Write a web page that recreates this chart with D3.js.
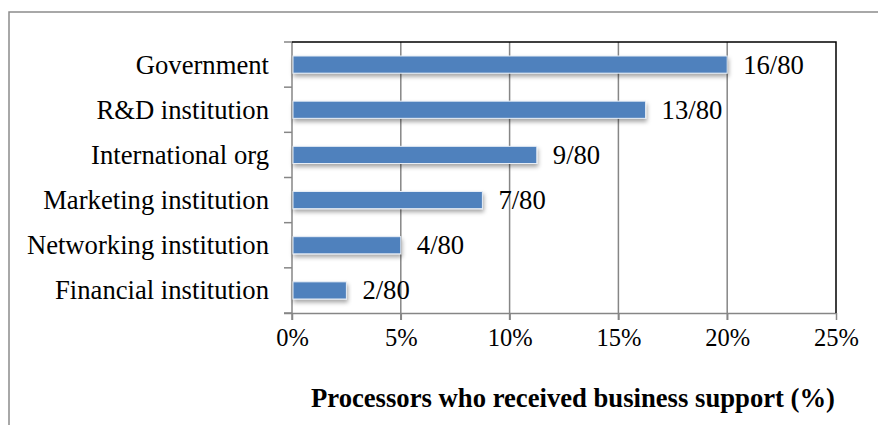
<!DOCTYPE html>
<html>
<head>
<meta charset="utf-8">
<script src="https://cdn.jsdelivr.net/npm/d3@7"></script>
<style>
  html, body { margin: 0; padding: 0; background: #fff; }
  svg { display: block; }
  text { font-family: "Liberation Serif", "Times New Roman", serif; fill: #000; }
</style>
</head>
<body>
<svg id="chart" width="878" height="425"></svg>
<script>
const categories = ["Government", "R&D institution", "International org", "Marketing institution", "Networking institution", "Financial institution"];
const counts = [16, 13, 9, 7, 4, 2];
const total = 80;
const xTicks = [0, 5, 10, 15, 20, 25];
const axisTitle = "Processors who received business support (%)";

const W = 878, H = 425;
const m = { left: 292, right: 836, top: 42, bottom: 313 };
const svg = d3.select("#chart");

const defs = svg.append("defs");
const f = defs.append("filter").attr("id", "shadow").attr("x", "-5%").attr("y", "-40%").attr("width", "115%").attr("height", "200%");
f.append("feDropShadow").attr("dx", 1).attr("dy", 3).attr("stdDeviation", 2).attr("flood-color", "#000").attr("flood-opacity", 0.35);

// outer frame
svg.append("path").attr("d", `M9,${H} L9,12 L${W},12`).attr("fill", "none").attr("stroke", "#8c8c8c").attr("stroke-width", 1.5);

const x = d3.scaleLinear().domain([0, 25]).range([m.left, m.right]);
const y = d3.scaleBand().domain(categories).range([m.top, m.bottom]).paddingInner(0.62).paddingOuter(0.31);
const yb = d3.scaleBand().domain(categories).range([m.top, m.bottom]);

// gridlines (with tick extension below axis)
svg.append("g").selectAll("line").data(xTicks.slice(1, -1)).join("line")
  .attr("x1", d => x(d)).attr("x2", d => x(d))
  .attr("y1", m.top).attr("y2", m.bottom + 7)
  .attr("stroke", "#868686").attr("stroke-width", 1.5);

// bottom axis
const xAxis = d3.axisBottom(x).tickValues(xTicks).tickFormat(d => d + "%").tickSize(7).tickPadding(9);
const gx = svg.append("g").attr("transform", `translate(0,${m.bottom})`).call(xAxis);
gx.select(".domain").attr("stroke", "#868686").attr("stroke-width", 1.5).attr("d", `M${m.left - 8},0.5H${m.right}`);
gx.selectAll(".tick line").attr("stroke", "#868686").attr("stroke-width", 1.5);
gx.selectAll(".tick text").attr("font-size", 24.5).attr("font-family", "Liberation Serif").attr("fill", "#000").attr("dy", "0.71em");

// left axis with ticks at band boundaries
const boundaries = categories.map(c => yb(c)).concat([m.bottom]);
svg.append("line").attr("x1", m.left).attr("x2", m.left).attr("y1", m.top).attr("y2", m.bottom + 7)
  .attr("stroke", "#868686").attr("stroke-width", 1.5);
svg.append("g").selectAll("line").data(boundaries).join("line")
  .attr("x1", m.left - 8).attr("x2", m.left)
  .attr("y1", d => d).attr("y2", d => d)
  .attr("stroke", "#868686").attr("stroke-width", 1.5);

// top & right border
svg.append("path").attr("d", `M${m.left},${m.top} H${m.right} V${m.bottom}`)
  .attr("fill", "none").attr("stroke", "#000").attr("stroke-width", 1.5);

// bars
const data = categories.map((c, i) => ({ c, n: counts[i], p: counts[i] / total * 100 }));
svg.append("g").selectAll("rect").data(data).join("rect")
  .attr("x", m.left + 1)
  .attr("y", d => y(d.c))
  .attr("width", d => x(d.p) - m.left - 1)
  .attr("height", y.bandwidth())
  .attr("fill", "#4F81BD")
  .attr("stroke", "#e6edf6").attr("stroke-width", 1)
  .attr("filter", "url(#shadow)");

// value labels
svg.append("g").selectAll("text").data(data).join("text")
  .attr("x", d => x(d.p) + 16)
  .attr("y", d => yb(d.c) + yb.bandwidth() / 2)
  .attr("dy", "0.34em")
  .attr("font-size", 26.67)
  .text(d => `${d.n}/${total}`);

// category labels
svg.append("g").selectAll("text").data(categories).join("text")
  .attr("x", m.left - 23)
  .attr("y", d => yb(d) + yb.bandwidth() / 2)
  .attr("dy", "0.34em")
  .attr("text-anchor", "end")
  .attr("font-size", 26.67)
  .text(d => d);

// axis title
svg.append("text").attr("x", 573).attr("y", 407).attr("text-anchor", "middle")
  .attr("font-size", 26.67).attr("font-weight", "bold").text(axisTitle);
</script>
</body>
</html>
